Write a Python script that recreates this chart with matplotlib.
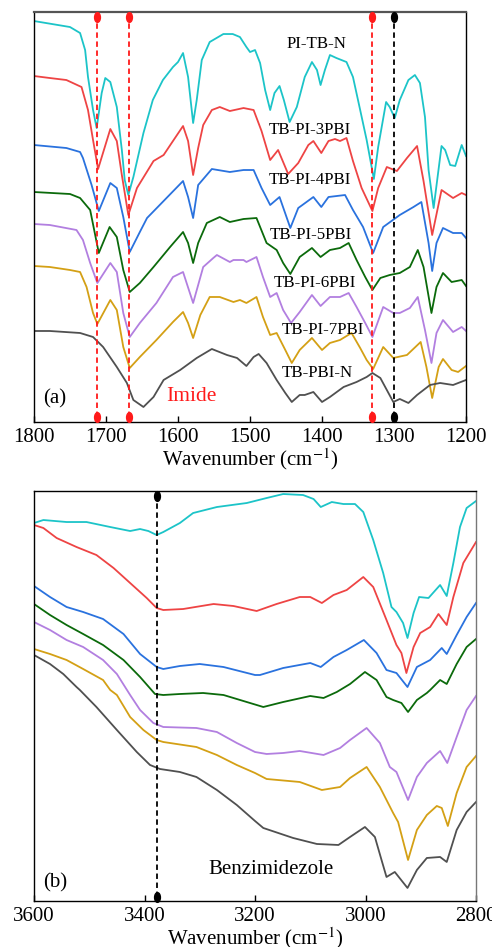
import numpy as np
import matplotlib
matplotlib.use("Agg")
import matplotlib.pyplot as plt
from matplotlib.markers import MarkerStyle
from matplotlib.transforms import Affine2D

plt.rcParams['font.family'] = ['Liberation Serif', 'DejaVu Serif']
plt.rcParams['mathtext.fontset'] = 'stix'

# ---- panel (a): 1800-1200 cm-1, (wavenumber, offset intensity a.u.) ----
pi_tb_n_a = [(1800, 401), (1750, 395), (1736, 389), (1729, 372), (1725, 345), (1718, 312), (1713, 294),
             (1706, 329), (1701, 344), (1694, 340), (1685, 315), (1678, 272), (1674, 242), (1669, 227),
             (1662, 245), (1648, 289), (1635, 322), (1621, 342), (1607, 355), (1600, 360), (1593, 369),
             (1586, 345), (1579, 299), (1574, 322), (1567, 362), (1556, 380), (1537, 388), (1524, 388),
             (1514, 385), (1505, 375), (1500, 370), (1493, 372), (1486, 359), (1479, 332), (1472, 312),
             (1466, 329), (1459, 336), (1453, 322), (1445, 300), (1435, 315), (1424, 345), (1414, 360),
             (1407, 352), (1402, 337), (1396, 352), (1389, 367), (1380, 364), (1373, 362), (1366, 360),
             (1357, 345), (1347, 312), (1338, 282), (1328, 243), (1322, 275), (1311, 320), (1306, 315),
             (1299, 304), (1292, 322), (1280, 342), (1271, 347), (1264, 339), (1257, 305), (1252, 252),
             (1245, 214), (1234, 276), (1229, 272), (1222, 257), (1215, 256), (1206, 277), (1200, 266)]
tb_pi_3pbi_a = [(1800, 346), (1778, 344), (1755, 342), (1734, 335), (1725, 312), (1718, 282), (1711, 253),
                (1694, 293), (1685, 281), (1678, 247), (1669, 207), (1657, 234), (1634, 261), (1620, 267),
                (1607, 281), (1593, 296), (1586, 281), (1579, 247), (1572, 274), (1565, 297), (1553, 312),
                (1542, 315), (1528, 311), (1509, 314), (1495, 312), (1484, 291), (1472, 262), (1461, 272),
                (1447, 248), (1433, 259), (1419, 277), (1412, 281), (1401, 269), (1391, 281), (1382, 283),
                (1375, 281), (1366, 284), (1357, 261), (1345, 234), (1330, 211), (1322, 234), (1310, 255),
                (1296, 251), (1282, 264), (1268, 276), (1259, 241), (1247, 187), (1234, 232), (1218, 224),
                (1206, 229), (1200, 227)]
tb_pi_4pbi_a = [(1800, 277), (1755, 274), (1736, 270), (1732, 264), (1720, 237), (1710, 211), (1694, 239),
                (1685, 234), (1676, 205), (1667, 170), (1653, 190), (1643, 204), (1620, 221), (1593, 241),
                (1586, 225), (1579, 204), (1572, 237), (1553, 253), (1528, 250), (1509, 252), (1495, 252),
                (1484, 234), (1472, 217), (1459, 225), (1444, 194), (1433, 214), (1412, 225), (1401, 215),
                (1391, 225), (1368, 227), (1357, 212), (1343, 195), (1329, 169), (1315, 195), (1292, 207),
                (1273, 215), (1262, 220), (1252, 179), (1247, 151), (1241, 179), (1232, 194), (1218, 189),
                (1206, 189), (1200, 184)]
tb_pi_5pbi_a = [(1800, 230), (1750, 228), (1736, 224), (1722, 212), (1710, 169), (1695, 195), (1685, 185),
                (1676, 152), (1667, 130), (1653, 139), (1634, 155), (1611, 175), (1593, 190), (1586, 179),
                (1579, 159), (1572, 179), (1560, 199), (1542, 205), (1528, 200), (1509, 203), (1491, 204),
                (1477, 179), (1463, 172), (1454, 159), (1444, 148), (1431, 165), (1414, 174), (1402, 165),
                (1389, 172), (1375, 174), (1363, 179), (1352, 162), (1340, 145), (1330, 132), (1319, 144),
                (1306, 147), (1292, 149), (1278, 155), (1267, 172), (1259, 155), (1248, 109), (1241, 135),
                (1232, 149), (1220, 140), (1206, 142), (1200, 136)]
tb_pi_6pbi_a = [(1800, 198), (1778, 197), (1741, 192), (1732, 182), (1722, 159), (1712, 139), (1694, 159),
                (1685, 150), (1676, 109), (1667, 85), (1653, 99), (1630, 119), (1607, 145), (1593, 150),
                (1579, 119), (1565, 155), (1551, 164), (1546, 167), (1528, 160), (1523, 162), (1509, 162),
                (1505, 160), (1491, 165), (1482, 145), (1472, 125), (1463, 129), (1454, 112), (1443, 99),
                (1431, 110), (1414, 127), (1402, 116), (1389, 125), (1375, 125), (1363, 129), (1352, 115),
                (1340, 99), (1330, 85), (1315, 115), (1301, 109), (1292, 109), (1278, 114), (1267, 125),
                (1257, 92), (1248, 59), (1241, 89), (1232, 102), (1218, 90), (1206, 95), (1200, 91)]
tb_pi_7pbi_a = [(1800, 156), (1778, 155), (1750, 152), (1736, 150), (1727, 135), (1718, 109), (1712, 98),
                (1694, 122), (1685, 112), (1676, 75), (1667, 54), (1653, 65), (1630, 82), (1607, 100),
                (1593, 110), (1586, 99), (1579, 84), (1569, 107), (1556, 125), (1542, 125), (1523, 120),
                (1514, 122), (1505, 119), (1491, 125), (1482, 105), (1472, 87), (1463, 89), (1451, 72),
                (1442, 59), (1431, 72), (1414, 84), (1400, 72), (1389, 79), (1375, 82), (1359, 89),
                (1347, 74), (1338, 62), (1329, 53), (1315, 75), (1301, 64), (1282, 67), (1263, 80),
                (1255, 55), (1247, 24), (1238, 55), (1232, 63), (1220, 52), (1211, 50), (1200, 56)]
tb_pbi_n_a = [(1800, 91), (1778, 91), (1736, 89), (1718, 85), (1704, 75), (1685, 55), (1671, 39), (1662, 22),
              (1648, 15), (1634, 25), (1620, 42), (1597, 52), (1574, 64), (1553, 73), (1532, 67), (1518, 64),
              (1505, 56), (1495, 65), (1488, 68), (1477, 59), (1463, 42), (1451, 29), (1442, 20), (1431, 27),
              (1424, 27), (1412, 30), (1400, 20), (1389, 25), (1370, 35), (1352, 40), (1338, 45), (1330, 49),
              (1319, 44), (1310, 32), (1301, 20), (1292, 23), (1280, 19), (1268, 27), (1250, 37), (1236, 39),
              (1218, 37), (1200, 42)]

# ---- panel (b): 3600-2800 cm-1 ----
pi_tb_n_b = [(3600, 378), (3583, 381), (3541, 379), (3505, 379), (3462, 374), (3426, 370), (3408, 372),
             (3393, 370), (3378, 366), (3366, 369), (3336, 378), (3312, 388), (3269, 394), (3215, 398),
             (3179, 403), (3149, 407), (3113, 406), (3094, 402), (3081, 394), (3061, 399), (3040, 397),
             (3019, 397), (3004, 389), (2986, 361), (2968, 328), (2953, 294), (2944, 289), (2932, 278),
             (2924, 263), (2913, 288), (2903, 304), (2886, 303), (2865, 316), (2853, 305), (2841, 338),
             (2829, 374), (2817, 393), (2800, 400)]
tb_pi_3pbi_b = [(3600, 376), (3583, 373), (3559, 363), (3523, 354), (3487, 346), (3456, 333), (3426, 318),
                (3396, 303), (3378, 293), (3366, 291), (3330, 292), (3275, 297), (3239, 295), (3197, 290),
                (3161, 297), (3119, 304), (3100, 304), (3079, 298), (3058, 306), (3034, 311), (3004, 324),
                (2986, 314), (2962, 281), (2944, 256), (2935, 248), (2926, 228), (2913, 254), (2901, 268),
                (2883, 274), (2868, 287), (2853, 276), (2841, 304), (2823, 338), (2800, 359)]
tb_pi_4pbi_b = [(3600, 315), (3571, 304), (3541, 294), (3511, 289), (3475, 282), (3438, 267), (3408, 247),
                (3378, 234), (3366, 232), (3336, 235), (3300, 237), (3257, 234), (3200, 226), (3191, 226),
                (3149, 233), (3100, 238), (3081, 234), (3058, 244), (3034, 251), (3003, 261), (2980, 248),
                (2962, 231), (2944, 228), (2924, 214), (2907, 234), (2883, 241), (2862, 253), (2853, 247),
                (2835, 266), (2817, 284), (2800, 298)]
tb_pi_5pbi_b = [(3600, 297), (3571, 286), (3541, 276), (3511, 267), (3475, 256), (3438, 241), (3408, 224),
                (3381, 207), (3366, 206), (3336, 207), (3294, 208), (3257, 206), (3239, 203), (3209, 198),
                (3185, 194), (3149, 199), (3100, 205), (3076, 203), (3052, 209), (3028, 217), (3001, 229),
                (2980, 221), (2962, 204), (2950, 201), (2935, 198), (2923, 189), (2907, 201), (2889, 208),
                (2883, 211), (2865, 221), (2853, 217), (2835, 237), (2817, 254), (2800, 262)]
tb_pi_6pbi_b = [(3600, 279), (3571, 271), (3541, 261), (3511, 254), (3475, 241), (3450, 227), (3426, 206),
                (3408, 191), (3384, 178), (3366, 174), (3306, 173), (3269, 169), (3233, 158), (3200, 149),
                (3179, 147), (3149, 148), (3119, 150), (3076, 146), (3046, 153), (3028, 161), (2998, 173),
                (2974, 158), (2956, 134), (2944, 129), (2923, 101), (2907, 124), (2889, 138), (2865, 150),
                (2852, 138), (2835, 164), (2817, 191), (2800, 205)]
tb_pi_7pbi_b = [(3600, 252), (3571, 247), (3541, 241), (3511, 232), (3475, 221), (3462, 211), (3450, 206),
                (3426, 184), (3402, 171), (3378, 161), (3366, 159), (3306, 154), (3269, 146), (3233, 136),
                (3200, 128), (3179, 122), (3119, 119), (3094, 114), (3079, 111), (3046, 114), (3028, 123),
                (2998, 134), (2974, 114), (2950, 88), (2941, 79), (2923, 41), (2907, 71), (2889, 86),
                (2871, 95), (2862, 93), (2851, 75), (2835, 108), (2817, 134), (2800, 145)]
tb_pbi_n_b = [(3600, 246), (3571, 237), (3547, 227), (3523, 214), (3517, 211), (3487, 194), (3450, 171),
              (3414, 149), (3390, 136), (3372, 132), (3336, 129), (3306, 124), (3269, 111), (3233, 96),
              (3200, 80), (3185, 73), (3131, 63), (3088, 57), (3049, 56), (3028, 64), (3001, 74), (2983, 64),
              (2971, 41), (2962, 24), (2947, 29), (2924, 13), (2907, 31), (2889, 43), (2865, 44), (2853, 39),
              (2835, 71), (2817, 89), (2800, 99)]

names = ["PI-TB-N", "TB-PI-3PBI", "TB-PI-4PBI", "TB-PI-5PBI", "TB-PI-6PBI", "TB-PI-7PBI", "TB-PBI-N"]
colors = ["#1cc4c8", "#ee4444", "#2a72de", "#0b6a0b", "#b27fe0", "#d4a015", "#505050"]
curves_a = [pi_tb_n_a, tb_pi_3pbi_a, tb_pi_4pbi_a, tb_pi_5pbi_a, tb_pi_6pbi_a, tb_pi_7pbi_a, tb_pbi_n_a]
curves_b = [pi_tb_n_b, tb_pi_3pbi_b, tb_pi_4pbi_b, tb_pi_5pbi_b, tb_pi_6pbi_b, tb_pi_7pbi_b, tb_pbi_n_b]

# label positions (wavenumber, offset) in panel (a)
label_x = [1408, 1417, 1417, 1415, 1410, 1399, 1407]
label_y = [378, 292, 242, 187, 139, 92, 49]

imide_lines = [1712, 1668, 1330]
amine_line_a = [1300]
benz_line_b = [3377]

fig = plt.figure(figsize=(4.92, 9.47), dpi=100)
ax1 = fig.add_axes([0.0691, 0.5544, 0.8781, 0.4329])
ax2 = fig.add_axes([0.0691, 0.0486, 0.8984, 0.4329])

ell = MarkerStyle('o', transform=Affine2D().scale(0.6, 1.0))


def draw_panel(ax, curves, xlim):
    for c, col in zip(curves, colors):
        w, v = zip(*c)
        ax.plot(w, v, color=col, lw=1.3)
    ax.set_xlim(*xlim)
    ax.set_ylim(0, 410)
    ax.set_yticks([])
    ax.tick_params(axis='x', direction='in', length=4, width=1, labelsize=15, pad=4)
    for s in ax.spines.values():
        s.set_linewidth(1.0)
    ax.set_xlabel("Wavenumber (cm$^{-1}$)", fontsize=15, labelpad=0)


def mark_line(ax, x, col, y0=5, y1=405):
    ax.plot([x, x], [y0, y1], color=col, ls=(0, (3, 2)), lw=1.3, zorder=4)
    ax.plot([x, x], [y0, y1], ls='none', marker=ell, ms=7, color=col, zorder=5, clip_on=False)


draw_panel(ax1, curves_a, (1800, 1200))
ax1.set_xticks([1800, 1700, 1600, 1500, 1400, 1300, 1200])
ax1.spines['top'].set_color('#555555')
ax1.spines['top'].set_linewidth(1.6)
for x in imide_lines:
    mark_line(ax1, x, '#ff1a1a')
for x in amine_line_a:
    mark_line(ax1, x, 'black')
for n, x, y in zip(names, label_x, label_y):
    ax1.text(x, y, n, fontsize=12.2, ha='center', va='center')
ax1.text(1788, 23, "(a)", fontsize=15, ha='left', va='center')
ax1.text(1616, 25, "Imide", fontsize=15.5, color='#ff1a1a', ha='left', va='center')

draw_panel(ax2, curves_b, (3600, 2800))
ax2.set_xticks([3600, 3400, 3200, 3000, 2800])
ax2.spines['right'].set_color('#777777')
for x in benz_line_b:
    mark_line(ax2, x, 'black', 4, 405)
ax2.text(3584, 18, "(b)", fontsize=15, ha='left', va='center')
ax2.text(3285, 31, "Benzimidezole", fontsize=15, ha='left', va='center')

fig.savefig("out.png", dpi=100)
